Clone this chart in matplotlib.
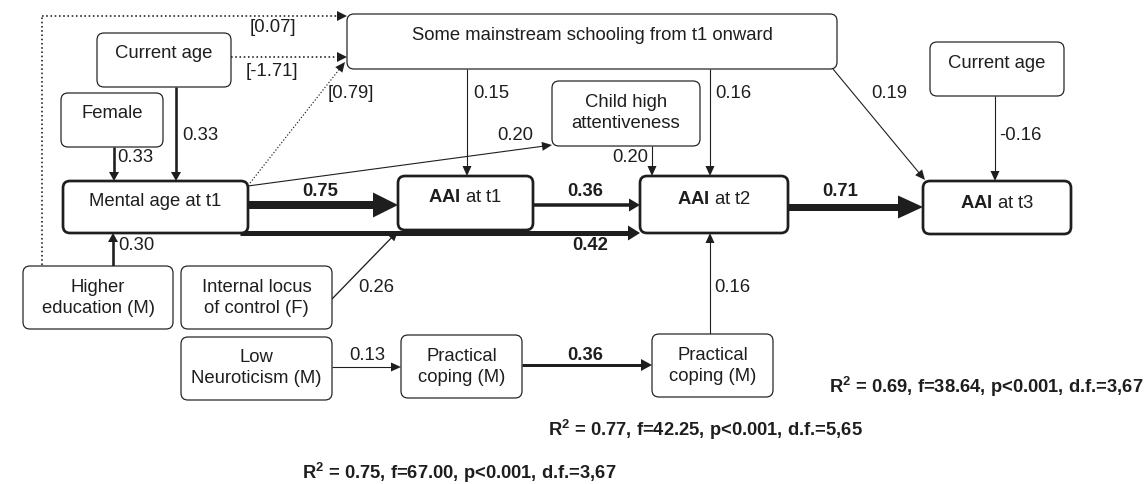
import numpy as np
import matplotlib.pyplot as plt
from matplotlib.patches import FancyBboxPatch, Polygon

plt.rcParams['font.family'] = ['Liberation Sans', 'DejaVu Sans']
plt.rcParams['mathtext.fontset'] = 'custom'
plt.rcParams['mathtext.rm'] = 'Liberation Sans'
plt.rcParams['mathtext.bf'] = 'Liberation Sans:bold'

# Nodes of the path model
node_keys = ['school', 'age_l', 'female', 'mental', 'child', 'aai1', 'aai2', 'aai3',
             'age_r', 'higher', 'locus', 'neuro', 'cope1', 'cope2']
node_labels = ['Some mainstream schooling from t1 onward', 'Current age', 'Female',
               'Mental age at t1', 'Child high\nattentiveness', r'$\mathbf{AAI}$ at t1',
               r'$\mathbf{AAI}$ at t2', r'$\mathbf{AAI}$ at t3', 'Current age',
               'Higher\neducation (M)', 'Internal locus\nof control (F)',
               'Low\nNeuroticism (M)', 'Practical\ncoping (M)', 'Practical\ncoping (M)']

# Paths (from, to) and their coefficients
path_from = ['female', 'age_l', 'higher', 'higher', 'age_l', 'mental', 'mental', 'mental',
             'mental', 'locus', 'school', 'child', 'school', 'school', 'age_r', 'aai1',
             'aai2', 'neuro', 'cope1', 'cope2']
path_to = ['mental', 'mental', 'mental', 'school', 'school', 'school', 'child', 'aai1',
           'aai2', 'aai1', 'aai1', 'aai2', 'aai2', 'aai3', 'aai3', 'aai2', 'aai3',
           'cope1', 'cope2', 'aai2']
path_coef = ['0.33', '0.33', '0.30', '[0.07]', '[-1.71]', '[0.79]', '0.20', '0.75',
             '0.42', '0.26', '0.15', '0.20', '0.16', '0.19', '-0.16', '0.36', '0.71',
             '0.13', '0.36', '0.16']

# Model fit statistics
fit_stats = [r'R$^{\mathbf{2}}$ = 0.69, f=38.64, p<0.001, d.f.=3,67',
             r'R$^{\mathbf{2}}$ = 0.77, f=42.25, p<0.001, d.f.=5,65',
             r'R$^{\mathbf{2}}$ = 0.75, f=67.00, p<0.001, d.f.=3,67']

# ---- layout (pixel coordinates) ----
W, H = 1147, 484
boxes = {  # x0, y0, x1, y1, text y, thick border
    'school': (347, 14, 837, 69, 35, False),
    'age_l': (97, 33, 231, 87, 54, False),
    'female': (61, 93, 163, 147, 114, False),
    'mental': (63, 181, 248, 233, 202, True),
    'child': (552, 81, 700, 146, 113, False),
    'aai1': (398, 176, 533, 230, 198, True),
    'aai2': (640, 176, 788, 233, 200, True),
    'aai3': (923, 181, 1071, 234, 203, True),
    'age_r': (930, 42, 1064, 96, 64, False),
    'higher': (23, 266, 173, 329, 298, False),
    'locus': (181, 266, 332, 329, 298, False),
    'neuro': (181, 337, 332, 400, 368, False),
    'cope1': (401, 335, 522, 398, 367, False),
    'cope2': (652, 334, 773, 397, 366, False),
}

# arrow geometry: start, end, shaft width px, head length px, head width px, style
thin = (1.1, 10, 9)
thick = (2.6, 9, 10)
arrows = [
    ((114, 147), (114, 181)) + thick + ('-',),
    ((176, 87), (176, 181)) + thick + ('-',),
    ((113, 266), (113, 233)) + thick + ('-',),
    ((42, 16), (347, 16), 1.6, 10, 10, ':'),
    ((231, 57), (347, 57), 1.6, 10, 10, ':'),
    ((250, 183), (345, 62), 1.2, 10, 9, ':'),
    ((248, 186), (552, 145)) + thin + ('-',),
    ((248, 205), (398, 205), 8, 25, 25, '-'),
    ((240, 233), (640, 233), 5, 12, 15, '-'),
    ((332, 299), (398, 231), 1.3, 10, 9, '-'),
    ((467, 69), (467, 176)) + thin + ('-',),
    ((652, 146), (652, 176)) + thin + ('-',),
    ((710, 69), (710, 176)) + thin + ('-',),
    ((833, 69), (925, 180)) + thin + ('-',),
    ((995, 96), (995, 181)) + thin + ('-',),
    ((533, 205), (640, 205), 3.5, 11, 13, '-'),
    ((788, 207), (923, 207), 7, 25, 23, '-'),
    ((332, 367), (401, 367)) + thin + ('-',),
    ((522, 365), (652, 365), 3, 11, 12, '-'),
    ((710, 334), (710, 233)) + thin + ('-',),
]
# label anchor: x, y, ha, bold
coef_pos = [
    (117, 157, 'left', False), (182, 136, 'left', False), (118, 245, 'left', False),
    (273, 28, 'center', False), (272, 72, 'center', False), (351, 93, 'center', False),
    (515, 136, 'center', False), (320, 192, 'center', True), (590, 245, 'center', True),
    (376, 288, 'center', False), (473, 93, 'left', False), (648, 157, 'right', False),
    (715, 93, 'left', False), (889, 93, 'center', False), (999, 136, 'left', False),
    (585, 192, 'center', True), (840, 192, 'center', True), (367, 355, 'center', False),
    (585, 355, 'center', True), (714, 288, 'left', False),
]
fit_pos = [(829, 387), (548, 430), (302, 473)]

px = 0.72  # points per pixel at dpi 100
fs = 13.3
ink = '#1e1e1e'

fig = plt.figure(figsize=(W / 100, H / 100), dpi=100)
ax = fig.add_axes([0, 0, 1, 1])
ax.set_xlim(0, W)
ax.set_ylim(H, 0)
ax.axis('off')

for key, label in zip(node_keys, node_labels):
    x0, y0, x1, y1, ty, bold = boxes[key]
    ax.add_patch(FancyBboxPatch((x0, y0), x1 - x0, y1 - y0,
                                boxstyle='round,pad=0,rounding_size=7',
                                fc='white', ec=ink,
                                lw=(2.7 if bold else 1.2) * px, zorder=3))
    ax.text((x0 + x1) / 2, ty, label, ha='center', va='center', fontsize=fs,
            color=ink, linespacing=1.3, zorder=4)

# dotted vertical part of the Higher education -> schooling path
ax.plot([42, 42], [265, 16], color=ink, lw=1.6 * px, ls=':', zorder=2)

for (p0, p1, lw, hl, hw, ls) in arrows:
    p0, p1 = np.array(p0, float), np.array(p1, float)
    d = (p1 - p0) / np.hypot(*(p1 - p0))
    n = np.array([-d[1], d[0]])
    base = p1 - d * hl
    ax.plot([p0[0], base[0] + d[0]], [p0[1], base[1] + d[1]], color=ink,
            lw=lw * px, ls=ls, solid_capstyle='butt', zorder=2)
    ax.add_patch(Polygon([p1, base + n * hw / 2, base - n * hw / 2], closed=True,
                         fc=ink, ec='none', zorder=2))

for coef, (x, y, ha, bold) in zip(path_coef, coef_pos):
    ax.text(x, y, coef, ha=ha, va='center', fontsize=fs, color=ink,
            fontweight='bold' if bold else 'normal', zorder=5)

for txt, (x, y) in zip(fit_stats, fit_pos):
    ax.text(x, y, txt, ha='left', va='center', fontsize=13.2, fontweight='bold',
            color=ink)

fig.savefig('out.png', dpi=100)
